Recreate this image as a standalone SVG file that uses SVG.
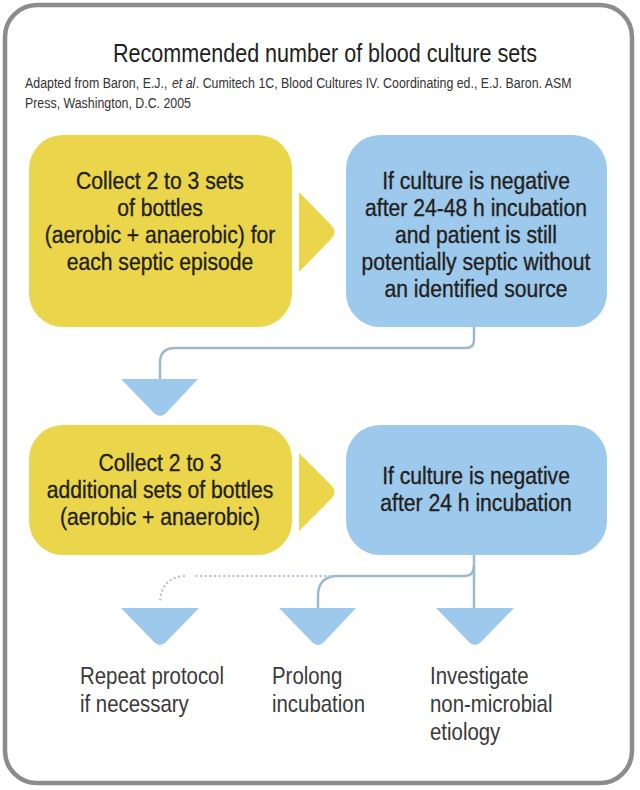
<svg xmlns="http://www.w3.org/2000/svg" width="640" height="790" viewBox="0 0 640 790">
<defs>
<style>
.t{font-family:"Liberation Sans",Arial,sans-serif;fill:#231f20}
.box{font-size:24px;text-anchor:middle;stroke:#231f20;stroke-width:0.35}
.lbl{font-size:24px;fill:#3a3a3a}
.sub{font-size:14px;fill:#333}
.y{fill:#EBD54B}
.b{fill:#9DC9EC}
.con{fill:none;stroke:#9DB9CE;stroke-width:2.5;stroke-linecap:round}
.dot{fill:none;stroke:#B9C9D6;stroke-width:2.5;stroke-dasharray:0.1 4.5;stroke-linecap:round}
</style>
</defs>
<rect x="5" y="5" width="627" height="778" rx="32" fill="#fff" stroke="#8c8c8c" stroke-width="4.5"/>
<g id="header">
<text class="t" x="325" y="62" font-size="26" text-anchor="middle" textLength="424" lengthAdjust="spacingAndGlyphs">Recommended number of blood culture sets</text>
<g transform="translate(25,0) scale(0.885,1)">
<text class="t sub" x="0" y="88">Adapted from Baron, E.J.,</text>
<text class="t sub" x="166" y="88" font-style="italic">et al</text>
<text class="t sub" x="193" y="88">. Cumitech 1C, Blood Cultures IV. Coordinating ed., E.J. Baron. ASM</text>
<text class="t sub" x="0" y="108">Press, Washington, D.C. 2005</text>
</g>
</g>
<g id="connectors">
<path class="con" d="M474 327 V340 Q474 348 466 348 H175 Q160 348 160 363 V379"/>
<path class="con" d="M474 555 V608"/>
<path class="con" d="M474 566 Q474 576 464 576 H338 Q318 576 318 596 V608"/>
<path class="dot" d="M330 576 H196"/>
<path class="dot" d="M184 576 Q160 578 160 604"/>
</g>
<g id="box1">
<rect class="y" x="29" y="135" width="263" height="192" rx="34"/>
<g class="t box" transform="translate(160,0) scale(0.88,1)">
<text x="0" y="189">Collect 2 to 3 sets</text>
<text x="0" y="216">of bottles</text>
<text x="0" y="243">(aerobic + anaerobic) for</text>
<text x="0" y="270">each septic episode</text>
</g>
</g>
<g id="arrow1">
<path class="y" d="M299 192 L332 226 Q337 232 332 238 L299 272 Z"/>
</g>
<g id="box2">
<rect class="b" x="346" y="135" width="261" height="192" rx="34"/>
<g class="t box" transform="translate(476,0) scale(0.88,1)">
<text x="0" y="189">If culture is negative</text>
<text x="0" y="216">after 24-48 h incubation</text>
<text x="0" y="243">and patient is still</text>
<text x="0" y="270">potentially septic without</text>
<text x="0" y="297">an identified source</text>
</g>
</g>
<g id="tri1">
<path class="b" d="M121 379 H198 L166 413 Q160 419 154 413 Z"/>
</g>
<g id="box3">
<rect class="y" x="29" y="425" width="263" height="130" rx="34"/>
<g class="t box" transform="translate(160,0) scale(0.88,1)">
<text x="0" y="471">Collect 2 to 3</text>
<text x="0" y="498">additional sets of bottles</text>
<text x="0" y="525">(aerobic + anaerobic)</text>
</g>
</g>
<g id="arrow2">
<path class="y" d="M299 453 L332 486 Q337 492 332 498 L299 531 Z"/>
</g>
<g id="box4">
<rect class="b" x="346" y="425" width="261" height="130" rx="34"/>
<g class="t box" transform="translate(476,0) scale(0.88,1)">
<text x="0" y="484">If culture is negative</text>
<text x="0" y="511">after 24 h incubation</text>
</g>
</g>
<g id="tri2">
<path class="b" d="M121 608 H199 L166 642 Q160 648 154 642 Z"/>
</g>
<g id="tri3">
<path class="b" d="M279 608 H356 L324 642 Q318 648 312 642 Z"/>
</g>
<g id="tri4">
<path class="b" d="M436 608 H514 L481 642 Q475 648 469 642 Z"/>
</g>
<g id="label1" class="t lbl" transform="translate(80,0) scale(0.85,1)">
<text x="0" y="684">Repeat protocol</text>
<text x="0" y="712">if necessary</text>
</g>
<g id="label2" class="t lbl" transform="translate(272,0) scale(0.85,1)">
<text x="0" y="684">Prolong</text>
<text x="0" y="712">incubation</text>
</g>
<g id="label3" class="t lbl" transform="translate(430,0) scale(0.85,1)">
<text x="0" y="684">Investigate</text>
<text x="0" y="712">non-microbial</text>
<text x="0" y="740">etiology</text>
</g>
</svg>
